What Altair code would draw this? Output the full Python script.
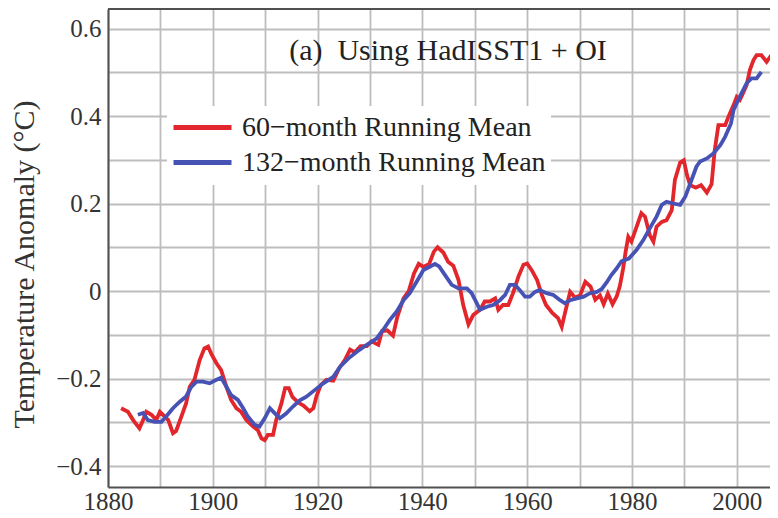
import altair as alt
import pandas as pd

SERIES = ["60−month Running Mean", "132−month Running Mean"]
COLORS = ["#e2262b", "#4752b5"]
TITLE = "(a)\u00a0 Using HadISST1 + OI"

years60 = [1882.5, 1883.8, 1884.8, 1886.0, 1886.7, 1887.3, 1888.3, 1889.2, 1889.9, 1890.5,
           1891.5, 1892.4, 1893.0, 1894.0, 1894.9, 1895.6, 1896.5, 1897.5, 1898.4, 1899.1,
           1899.7, 1900.7, 1901.6, 1902.6, 1903.5, 1904.5, 1905.4, 1906.4, 1907.7, 1908.6,
           1909.3, 1909.9, 1910.5, 1911.5, 1912.1, 1913.1, 1913.8, 1914.5, 1915.2, 1916.3,
           1917.3, 1918.5, 1919.2, 1919.8, 1920.6, 1921.7, 1923.0, 1924.1, 1925.2, 1926.2,
           1927.1, 1928.2, 1929.4, 1930.3, 1931.6, 1932.3, 1933.3, 1934.4, 1935.2, 1936.4,
           1937.4, 1938.4, 1939.3, 1940.2, 1941.3, 1942.2, 1942.9, 1944.0, 1944.9, 1945.9,
           1946.9, 1947.8, 1948.8, 1949.7, 1951.0, 1951.9, 1952.9, 1953.9, 1954.5, 1955.4,
           1956.4, 1957.3, 1958.4, 1959.3, 1960.0, 1960.9, 1961.9, 1962.8, 1963.6, 1964.8,
           1965.9, 1966.6, 1967.2, 1968.2, 1969.1, 1970.1, 1971.1, 1972.1, 1973.0, 1973.9,
           1974.6, 1975.4, 1976.3, 1977.1, 1977.7, 1978.3, 1978.8, 1979.3, 1979.9, 1980.9,
           1981.8, 1982.5, 1983.4, 1984.1, 1984.7, 1985.7, 1986.6, 1987.6, 1988.2, 1989.2,
           1989.9, 1990.5, 1991.1, 1992.2, 1993.2, 1994.3, 1995.2, 1995.8, 1996.5, 1997.8,
           1998.4, 1999.4, 2000.0, 2000.6, 2001.2, 2001.9, 2002.5, 2003.2, 2003.8, 2004.7,
           2005.7, 2006.6, 2007.6]
vals60 = [-0.268, -0.276, -0.295, -0.314, -0.295, -0.276, -0.283, -0.295, -0.276, -0.283,
          -0.295, -0.325, -0.320, -0.287, -0.257, -0.219, -0.203, -0.158, -0.131, -0.127,
          -0.143, -0.165, -0.181, -0.219, -0.249, -0.268, -0.276, -0.295, -0.310, -0.318,
          -0.337, -0.341, -0.329, -0.329, -0.295, -0.257, -0.222, -0.222, -0.242, -0.255,
          -0.262, -0.275, -0.268, -0.240, -0.215, -0.203, -0.205, -0.177, -0.158, -0.134,
          -0.140, -0.126, -0.126, -0.115, -0.123, -0.092, -0.090, -0.102, -0.060, -0.017,
          0.000, 0.040, 0.062, 0.055, 0.062, 0.090, 0.100, 0.088, 0.067, 0.058,
          0.025, -0.032, -0.076, -0.055, -0.043, -0.024, -0.024, -0.017, -0.043, -0.032,
          -0.032, -0.005, 0.035, 0.060, 0.063, 0.047, 0.025, -0.009, -0.032, -0.050,
          -0.062, -0.082, -0.051, -0.002, -0.015, -0.010, 0.021, 0.010, -0.020, -0.010,
          -0.030, -0.006, -0.030, -0.012, 0.012, 0.050, 0.090, 0.124, 0.113, 0.147,
          0.178, 0.170, 0.128, 0.113, 0.147, 0.158, 0.162, 0.185, 0.254, 0.294,
          0.299, 0.265, 0.242, 0.236, 0.242, 0.225, 0.244, 0.322, 0.379, 0.379,
          0.398, 0.425, 0.444, 0.437, 0.452, 0.471, 0.505, 0.528, 0.539, 0.539,
          0.524, 0.539, 0.551]

years132 = [1885.7, 1886.7, 1887.6, 1888.9, 1890.2, 1891.1, 1892.4, 1893.7, 1894.9, 1895.9,
            1896.9, 1898.1, 1899.4, 1900.7, 1901.6, 1902.6, 1903.5, 1904.8, 1905.8, 1906.7,
            1908.0, 1908.9, 1909.9, 1910.9, 1911.8, 1912.8, 1914.0, 1915.3, 1916.6, 1917.8,
            1919.5, 1921.1, 1923.0, 1924.3, 1925.9, 1927.5, 1929.4, 1931.3, 1932.5, 1933.8,
            1935.1, 1936.4, 1937.6, 1938.9, 1940.2, 1941.5, 1942.4, 1943.2, 1944.3, 1945.6,
            1946.9, 1948.5, 1949.4, 1950.4, 1951.0, 1952.3, 1953.5, 1954.8, 1955.8, 1956.7,
            1957.7, 1958.6, 1959.6, 1960.5, 1961.5, 1962.4, 1963.7, 1965.0, 1966.3, 1967.2,
            1968.2, 1969.5, 1970.8, 1972.0, 1973.3, 1974.2, 1975.2, 1976.1, 1977.1, 1978.0,
            1979.4, 1980.9, 1982.2, 1983.4, 1984.7, 1985.7, 1986.6, 1987.9, 1989.2, 1990.2,
            1991.2, 1992.3, 1993.0, 1994.3, 1995.6, 1996.9, 1997.8, 1998.9, 1999.4, 2000.3,
            2000.9, 2001.9, 2002.8, 2003.8, 2004.7]
vals132 = [-0.283, -0.279, -0.295, -0.299, -0.299, -0.287, -0.268, -0.253, -0.241, -0.219,
           -0.207, -0.207, -0.211, -0.203, -0.198, -0.219, -0.238, -0.249, -0.268, -0.287,
           -0.306, -0.310, -0.291, -0.268, -0.279, -0.291, -0.280, -0.264, -0.250, -0.242,
           -0.226, -0.211, -0.196, -0.173, -0.154, -0.139, -0.123, -0.108, -0.089, -0.066,
           -0.047, -0.021, -0.005, 0.021, 0.048, 0.056, 0.062, 0.056, 0.037, 0.014,
           0.006, 0.006, -0.005, -0.028, -0.043, -0.036, -0.032, -0.021, -0.009, 0.014,
           0.014, 0.002, -0.013, -0.013, -0.002, 0.002, -0.005, -0.009, -0.021, -0.028,
           -0.021, -0.017, -0.013, -0.005, -0.002, 0.004, 0.020, 0.037, 0.052, 0.068,
           0.074, 0.094, 0.117, 0.143, 0.170, 0.197, 0.204, 0.200, 0.197, 0.216,
           0.248, 0.284, 0.296, 0.303, 0.315, 0.334, 0.353, 0.383, 0.414, 0.437,
           0.452, 0.475, 0.486, 0.486, 0.501]

x_grid = [1880, 1890, 1900, 1910, 1920, 1930, 1940, 1950, 1960, 1970, 1980, 1990, 2000]
y_grid = [-0.4, -0.3, -0.2, -0.1, 0.0, 0.1, 0.2, 0.3, 0.4, 0.5, 0.6]

df = pd.concat([
    pd.DataFrame({"year": years60, "anom": vals60, "series": SERIES[0]}),
    pd.DataFrame({"year": years132, "anom": vals132, "series": SERIES[1]}),
])

W, H = 662, 478
SERIF = "Liberation Serif"
DARK = "#505050"
GRID = "#bdbdbd"

lines = alt.Chart(df).mark_line(strokeWidth=3.8, clip=True).encode(
    x=alt.X("year:Q",
            scale=alt.Scale(domain=[1880, 2006.35], nice=False, zero=False),
            axis=alt.Axis(values=x_grid, title=None, format="d",
                          labelExpr="datum.value % 20 == 0 ? format(datum.value, 'd') : ''",
                          grid=True, gridColor=GRID, gridWidth=1.8,
                          domain=True, domainColor=DARK, domainWidth=2,
                          ticks=False, labelPadding=2, labelFont=SERIF, labelFontSize=25,
                          labelColor="#333", labelFlush=False)),
    y=alt.Y("anom:Q",
            scale=alt.Scale(domain=[-0.448, 0.6446], nice=False, zero=False),
            axis=alt.Axis(values=y_grid, title="Temperature Anomaly (°C)",
                          labelExpr="abs(round(datum.value*10)) % 2 == 0 ? (abs(datum.value) < 0.001 ? '0' : format(datum.value, '.1f')) : ''",
                          grid=True, gridColor=GRID, gridWidth=1.8,
                          domain=True, domainColor=DARK, domainWidth=2,
                          ticks=False, labelPadding=7, labelFont=SERIF, labelFontSize=25,
                          labelColor="#333", labelFlush=False,
                          titleFont=SERIF, titleFontSize=30, titleFontWeight="normal",
                          titleColor="#333", titleAngle=270, titleAlign="center",
                          titleBaseline="alphabetic", titleX=-75, titleY=255)),
    color=alt.Color("series:N",
                    scale=alt.Scale(domain=SERIES, range=COLORS),
                    sort=SERIES,
                    legend=alt.Legend(title=None, orient="none", legendX=59, legendY=97,
                                      symbolType="stroke", symbolSize=3364,
                                      symbolStrokeWidth=5, labelFont=SERIF,
                                      labelFontSize=28, labelColor="#222",
                                      labelOffset=8, rowPadding=0, clipHeight=35,
                                      padding=4, fillColor="white", strokeColor="white",
                                      labelLimit=500)),
)

title_text = alt.Chart(pd.DataFrame({"t": [TITLE]})).mark_text(
    font=SERIF, fontSize=30, color="#222", align="center", baseline="alphabetic"
).encode(text="t:N", x=alt.value(340), y=alt.value(51))

top_rule = alt.Chart(pd.DataFrame({"a": [0]})).mark_rule(color=DARK, strokeWidth=2).encode(
    x=alt.value(0), x2=alt.value(W), y=alt.value(0))

chart = alt.layer(lines, title_text, top_rule).properties(
    width=W, height=H, autosize="none",
    padding={"left": 100, "top": 1, "right": 0, "bottom": 30},
).configure_view(stroke=None)

chart.save("out.html", embed_options={"renderer": "svg", "actions": False})
